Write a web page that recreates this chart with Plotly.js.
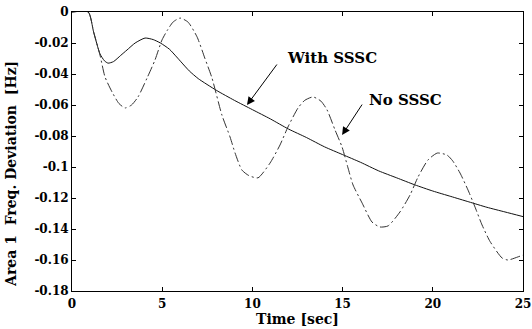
<!DOCTYPE html>
<html>
<head>
<meta charset="utf-8">
<script src="https://cdn.plot.ly/plotly-3.0.1.min.js"></script>
<style>html,body{margin:0;padding:0;background:#fff;}#chart{width:532px;height:329px;}</style>
</head>
<body>
<div id="chart"></div>
<script>
// With SSSC (solid)
const tWith = [0, 0.9, 1.2, 1.55, 1.8, 2.0, 2.3, 2.7, 3.05, 3.5, 4.05, 4.5, 4.9, 5.4, 5.8, 6.5, 7.0, 8.0, 9.0, 10, 11, 12, 13, 14, 15, 16, 17, 18, 19, 20, 21, 22, 23, 24, 25];
const vWith = [0, 0, -0.013, -0.027, -0.0315, -0.033, -0.032, -0.028, -0.0245, -0.020, -0.0168, -0.0178, -0.020, -0.024, -0.029, -0.038, -0.043, -0.0505, -0.057, -0.063, -0.069, -0.0755, -0.081, -0.087, -0.092, -0.097, -0.1025, -0.107, -0.1115, -0.1155, -0.119, -0.1225, -0.126, -0.129, -0.132];
// No SSSC (dash-dot)
const tNo = [0, 0.9, 1.2, 1.55, 1.83, 2.22, 2.6, 2.94, 3.3, 3.66, 4.16, 4.6, 4.99, 5.3, 5.6, 5.99, 6.43, 6.93, 7.37, 7.76, 8.31, 8.76, 9.04, 9.42, 9.8, 10.31, 10.98, 11.53, 11.97, 12.53, 12.9, 13.36, 13.8, 14.14, 14.58, 14.97, 15.30, 15.58, 16.08, 16.63, 17.07, 17.52, 18.18, 18.74, 19.18, 19.73, 20.25, 20.79, 21.1, 21.51, 21.95, 22.34, 22.73, 23.17, 23.84, 24.17, 24.72, 25];
const vNo = [0, 0, -0.013, -0.0277, -0.0419, -0.0516, -0.059, -0.0619, -0.060, -0.0548, -0.0426, -0.031, -0.018, -0.0115, -0.0065, -0.0039, -0.0065, -0.016, -0.030, -0.0426, -0.0665, -0.0806, -0.091, -0.102, -0.1055, -0.107, -0.0974, -0.0858, -0.0742, -0.0619, -0.057, -0.0548, -0.0575, -0.0632, -0.0761, -0.0871, -0.1006, -0.1116, -0.1232, -0.1355, -0.1387, -0.138, -0.129, -0.118, -0.1065, -0.0955, -0.091, -0.0923, -0.096, -0.1039, -0.1148, -0.1258, -0.1374, -0.148, -0.1587, -0.160, -0.158, -0.1568];

const xTickVals = [0, 5, 10, 15, 20, 25];
const xTickText = ["0", "5", "10", "15", "20", "25"];
const yTickVals = [0, -0.02, -0.04, -0.06, -0.08, -0.1, -0.12, -0.14, -0.16, -0.18];
const yTickText = ["0", "-0.02", "-0.04", "-0.06", "-0.08", "-0.1", "-0.12", "-0.14", "-0.16", "-0.18"];

const labelWith = "With SSSC";
const labelNo = "No SSSC";
const xTitle = "Time [sec]";
const yTitle = "Area 1\u00a0 Freq. Deviation\u00a0 [Hz]";

const FONT = "DejaVu Serif, Liberation Serif, serif";

const traces = [
  {x: tWith, y: vWith, mode: "lines", line: {color: "#111", width: 1, shape: "spline", smoothing: 0.6}, hoverinfo: "skip"},
  {x: tNo, y: vNo, mode: "lines", line: {color: "#333", width: 1, dash: "10px,3px,2px,3px", shape: "spline", smoothing: 0.6}, hoverinfo: "skip"}
];

const axisCommon = {
  showgrid: false, zeroline: false, showline: true, linecolor: "#000", linewidth: 1,
  mirror: "ticks", ticks: "inside", ticklen: 4, tickcolor: "#000",
  tickfont: {family: FONT, size: 12, color: "#000", weight: "bold"}
};

const layout = {
  width: 532, height: 329,
  margin: {l: 72, r: 9, t: 12, b: 38},
  paper_bgcolor: "#fff", plot_bgcolor: "#fff",
  showlegend: false,
  xaxis: Object.assign({}, axisCommon, {
    range: [0, 25], tickmode: "array", tickvals: xTickVals, ticktext: xTickText,
    ticklabelstandoff: 2,
    title: {text: "<b>" + xTitle + "</b>", font: {family: FONT, size: 14, color: "#000"}, standoff: 3}
  }),
  yaxis: Object.assign({}, axisCommon, {
    range: [-0.18, 0], tickmode: "array", tickvals: yTickVals, ticktext: yTickText
  }),
  annotations: [
    {xref: "paper", yref: "paper", x: -0.135, y: 0.42, text: "<b>" + yTitle + "</b>", textangle: -90, showarrow: false,
     font: {family: FONT, size: 14, color: "#000"}, xanchor: "center", yanchor: "middle"},
    {x: 14.41, y: -0.0297, text: "<b>" + labelWith + "</b>", showarrow: false, font: {family: FONT, size: 15, color: "#000"}},
    {x: 18.46, y: -0.0568, text: "<b>" + labelNo + "</b>", showarrow: false, font: {family: FONT, size: 15, color: "#000"}},
    {x: 9.7, y: -0.060, text: "", showarrow: true, arrowhead: 2, arrowsize: 1.6, arrowwidth: 1, arrowcolor: "#000", ax: 31, ay: -42},
    {x: 14.97, y: -0.0794, text: "", showarrow: true, arrowhead: 2, arrowsize: 1.6, arrowwidth: 1, arrowcolor: "#000", ax: 21, ay: -32}
  ]
};

Plotly.newPlot("chart", traces, layout, {displayModeBar: false, staticPlot: true});
</script>
</body>
</html>
